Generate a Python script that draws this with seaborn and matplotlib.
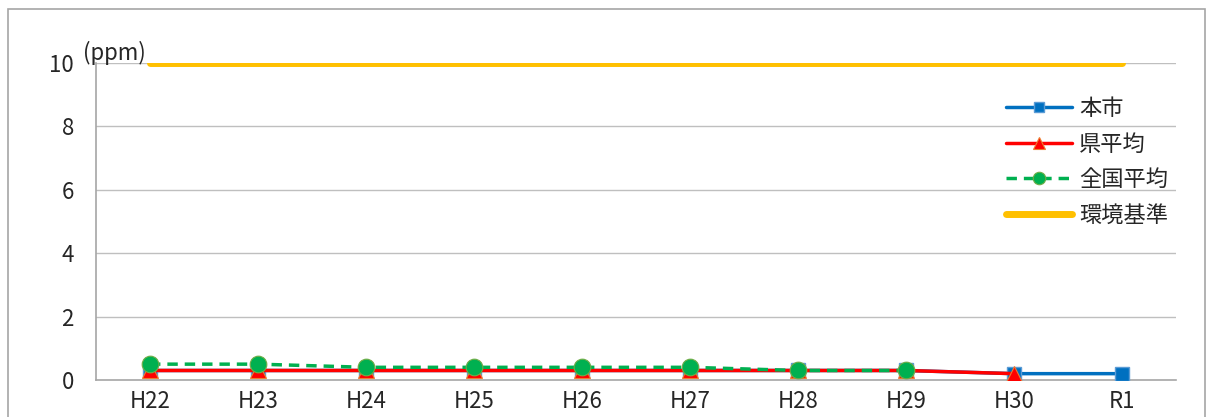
import numpy as np
import pandas as pd
import seaborn as sns
import matplotlib.pyplot as plt
from matplotlib.patches import Rectangle

years = ["H22", "H23", "H24", "H25", "H26", "H27", "H28", "H29", "H30", "R1"]
city = [0.3, 0.3, 0.3, 0.3, 0.3, 0.3, 0.3, 0.3, 0.2, 0.2]
pref = [0.3, 0.3, 0.3, 0.3, 0.3, 0.3, 0.3, 0.3, 0.2, np.nan]
national = [0.5, 0.5, 0.4, 0.4, 0.4, 0.4, 0.3, 0.3, np.nan, np.nan]
standard = [10] * 10

sns.set_style("white")
plt.rcParams['font.family'] = ['Noto Sans CJK JP', 'DejaVu Sans']

df = pd.DataFrame({"pos": np.arange(len(years)), "city": city, "pref": pref,
                   "national": national, "standard": standard})

fig = plt.figure(figsize=(12.12, 4.17), dpi=100)
# outer chart border
fig.patches.append(Rectangle((8 / 1212, -0.1), 1197 / 1212, (417 - 9) / 417 + 0.1,
                             transform=fig.transFigure, fill=False,
                             edgecolor="#a6a6a6", lw=1.2))
ax = fig.add_axes([96 / 1212, 37 / 417, 1080 / 1212, 317 / 417])

for v in [2, 4, 6, 8, 10]:
    ax.axhline(v, color="#bfbfbf", lw=1, zorder=0)

sns.lineplot(data=df, x="pos", y="city", ax=ax, color="#0070C0", lw=2.5,
             marker="s", markersize=10, markeredgecolor="#5b9bd5",
             markeredgewidth=1, label="本市", zorder=3)
sns.lineplot(data=df, x="pos", y="pref", ax=ax, color="#FF0000", lw=2.5,
             marker="^", markersize=12, markeredgecolor="#ed7d31",
             markeredgewidth=0.8, label="県平均", zorder=4)
sns.lineplot(data=df, x="pos", y="national", ax=ax, color="#00B050", lw=2.5,
             linestyle=(0, (3, 2)), marker="o", markersize=12,
             markeredgecolor="#70ad47", markeredgewidth=0.8,
             label="全国平均", zorder=5)
sns.lineplot(data=df, x="pos", y="standard", ax=ax, color="#FFC000", lw=5,
             label="環境基準", zorder=6, solid_capstyle="round")

ax.set_xlim(-0.5, len(years) - 0.5)
ax.set_ylim(0, 10)
ax.set_xticks(np.arange(len(years)))
ax.set_xticklabels(years, fontsize=16, color="#262626")
ax.set_xticks(np.arange(len(years) + 1) - 0.5, minor=True)
ax.tick_params(axis="x", which="major", length=0, pad=7)
ax.tick_params(axis="x", which="minor", length=5, color="#a6a6a6", direction="out")
ax.set_yticks([0, 2, 4, 6, 8, 10])
ax.set_yticklabels(["0", "2", "4", "6", "8", "10"], fontsize=16, color="#262626")
ax.tick_params(axis="y", length=4, color="#a6a6a6", direction="out", pad=12)
ax.set_xlabel("")
ax.set_ylabel("")

for s in ["top", "right"]:
    ax.spines[s].set_visible(False)
for s in ["left", "bottom"]:
    ax.spines[s].set_color("#a6a6a6")
    ax.spines[s].set_linewidth(1.2)

ax.text(-0.012, 0.995, "(ppm)", transform=ax.transAxes, fontsize=16,
        color="#262626", ha="left", va="bottom")

ax.legend(loc="upper left", bbox_to_anchor=(0.834, 0.92), frameon=False,
          fontsize=16, handlelength=3.0, handletextpad=0.3, labelspacing=0.56,
          markerscale=0.75, borderaxespad=0)

fig.savefig("out.png", dpi=100)
